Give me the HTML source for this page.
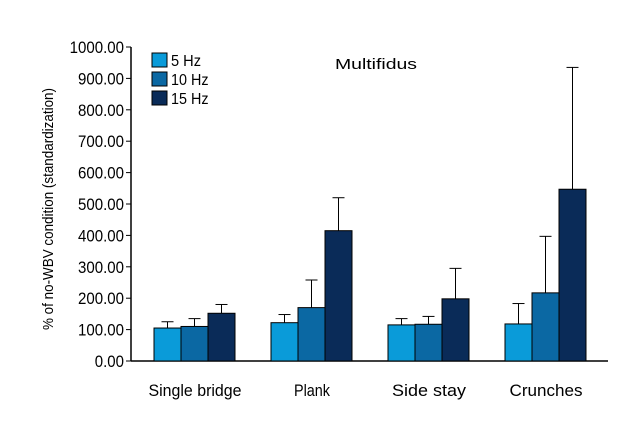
<!DOCTYPE html>
<html><head><meta charset="utf-8"><style>
body{margin:0;background:#fff;}
svg{display:block;font-family:"Liberation Sans",sans-serif;}
</style></head><body>
<svg id="chart" width="640" height="440">
<g id="axes"></g><g id="bars"></g>
<text x="376" y="69" font-size="15" text-anchor="middle" textLength="82" lengthAdjust="spacingAndGlyphs">Multifidus</text>
<text transform="translate(53,209) rotate(-90)" font-size="15" text-anchor="middle" textLength="242" lengthAdjust="spacingAndGlyphs">% of no-WBV condition (standardization)</text>
<g id="legend"></g>
</svg>
<script>
const categories=["Single bridge","Plank","Side stay","Crunches"];
const seriesNames=["5 Hz","10 Hz","15 Hz"];
const means5=[105,122,115,118];
const means10=[110,170,117,217];
const means15=[152,415,198,547];
const err5=[125,148,135,183];
const err10=[135,258,142,397];
const err15=[180,520,295,935];
const yTicks=[0,100,200,300,400,500,600,700,800,900,1000];
const catWidths=[93,36,74,73];
const colors=["#0a9bd9","#0b68a3","#0a2b58"];
const NS="http://www.w3.org/2000/svg";
const y0=361,y1=47,xL=131,xR=608;
const y=v=>y0-(v/1000)*(y0-y1);
const gx=i=>154+i*117, bw=27;
function mk(t,a,p){const e=document.createElementNS(NS,t);for(const k in a)e.setAttribute(k,a[k]);p.appendChild(e);return e;}
const axes=document.getElementById('axes');
const ya=mk('line',{x1:xL,y1:y1,x2:xL,y2:y0,stroke:'#000','stroke-width':1.5},axes);


const xa=mk('line',{x1:xL,y1:y0,x2:xR,y2:y0,stroke:'#000','stroke-width':1.5},axes);


yTicks.forEach(v=>{
 mk('line',{x1:xL-5,y1:y(v),x2:xL,y2:y(v),stroke:'#000'},axes);
 const s=v.toFixed(2);
 const t=mk('text',{x:124,y:y(v)+6,'font-size':17,'text-anchor':'end',textLength:(s.length-1)*8.4+4,lengthAdjust:'spacingAndGlyphs'},axes);
 t.textContent=s;
 
 
});
const bars=document.getElementById('bars');
const means=[means5,means10,means15],errs=[err5,err10,err15];
categories.forEach((c,i)=>{
 for(let s=0;s<3;s++){
  const x=gx(i)+s*bw, cx=x+bw/2;
  const el=mk('line',{x1:cx,y1:y(means[s][i]),x2:cx,y2:y(errs[s][i]),stroke:'#000','stroke-width':1},bars);
  
  
  mk('line',{x1:cx-6,y1:y(errs[s][i]),x2:cx+6,y2:y(errs[s][i]),stroke:'#000','stroke-width':1},bars);
  const r=mk('rect',{x:x,y:y(means[s][i]),width:bw,height:y0-y(means[s][i]),fill:colors[s],stroke:'#000','stroke-width':1},bars);
  
  
 }
 const t=mk('text',{x:gx(i)+41,y:396,'font-size':17,'text-anchor':'middle',textLength:catWidths[i],lengthAdjust:'spacingAndGlyphs'},bars);
 t.textContent=c;
 
 
});
const lg=document.getElementById('legend');
seriesNames.forEach((n,s)=>{
 const r=mk('rect',{x:152,y:53+s*19,width:15,height:14,fill:colors[s],stroke:'#000','stroke-width':1},lg);
 
 
 const t=mk('text',{x:171,y:66+s*19,'font-size':16,textLength:n.length*7.5,lengthAdjust:'spacingAndGlyphs'},lg);
 t.textContent=n;
 
 
});
</script>
</body></html>
